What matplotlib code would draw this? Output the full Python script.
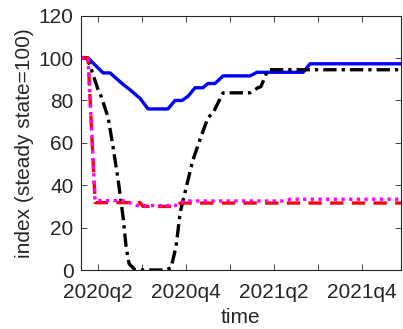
import matplotlib
matplotlib.use("Agg")
import matplotlib.pyplot as plt

plt.rcParams["font.family"] = ["Liberation Sans", "DejaVu Sans"]

# time in decimal years, values as index (steady state = 100)
blue_t = [2020.153, 2020.195, 2020.280, 2020.320, 2020.388, 2020.434, 2020.490,
          2020.536, 2020.649, 2020.689, 2020.729, 2020.763, 2020.803, 2020.848,
          2020.876, 2020.916, 2020.962, 2021.115, 2021.155, 2021.417, 2021.456,
          2021.973]
blue_v = [100, 100, 93, 93, 88, 85, 81, 76, 76, 80, 80, 82, 86, 86, 88, 88,
          91.6, 91.6, 93.3, 93.3, 97.3, 97.3]

black_t = [2020.153, 2020.189, 2020.212, 2020.252, 2020.269, 2020.309, 2020.337,
           2020.365, 2020.394, 2020.411, 2020.428, 2020.462, 2020.632, 2020.666,
           2020.695, 2020.718, 2020.735, 2020.763, 2020.791, 2020.837, 2020.877,
           2020.905, 2020.934, 2020.962, 2021.115, 2021.160, 2021.177, 2021.217,
           2021.973]
black_v = [100, 100, 95, 85, 82, 72, 58, 43, 25, 11, 3, 0, 0, 1, 11, 27, 33,
           42.5, 52, 63, 72, 74, 79, 83.6, 83.6, 86, 86.5, 94.5, 94.5]

red_t = [2020.153, 2020.195, 2020.235, 2020.490, 2020.507, 2020.689, 2020.718,
         2021.973]
red_v = [100, 100, 31.8, 31.8, 30, 30, 31.6, 31.6]

mag_t = [2020.153, 2020.195, 2020.235, 2020.405, 2020.473, 2020.689, 2020.746,
         2021.303, 2021.343, 2021.973]
mag_v = [100, 100, 32.7, 32.7, 30.4, 30.4, 32.6, 32.6, 33.4, 33.4]

tick_pos = [2020.25, 2020.75, 2021.25, 2021.75]
tick_labels = ["2020q2", "2020q4", "2021q2", "2021q4"]
minor_pos = [2020.5, 2021.0, 2021.5]

fig = plt.figure(figsize=(4.03, 3.29), dpi=100)
ax = fig.add_axes([0.2002, 0.1793, 0.7948, 0.773])

lw = 2.4
ax.plot(blue_t, blue_v, color="blue", linewidth=lw, linestyle="-")
ax.plot(black_t, black_v, color="black", linewidth=lw, linestyle=(0, (4, 1.5, 1, 1.5)))
ax.plot(red_t, red_v, color="red", linewidth=lw, linestyle=(0, (4, 2.5)))
ax.plot(mag_t, mag_v, color="magenta", linewidth=lw, linestyle=(0, (1, 1.3)))

ax.set_xlim(2020.153, 2021.973)
ax.set_ylim(0, 120)
ax.set_yticks([0, 20, 40, 60, 80, 100, 120])
ax.set_xticks(tick_pos)
ax.set_xticklabels(tick_labels)
ax.set_xticks(minor_pos, minor=True)

grey = "#262626"
for s in ax.spines.values():
    s.set_color(grey)
    s.set_linewidth(0.8)
ax.tick_params(which="both", direction="in", top=True, right=True, length=4,
               width=0.6, color=grey, labelsize=15, labelcolor=grey)
ax.tick_params(axis="x", pad=9)
ax.tick_params(axis="y", pad=5)

ax.set_xlabel("time", fontsize=15, color=grey, labelpad=5)
ax.set_ylabel("index (steady state=100)", fontsize=15, color=grey, labelpad=3)

fig.savefig("out.png", dpi=100)
